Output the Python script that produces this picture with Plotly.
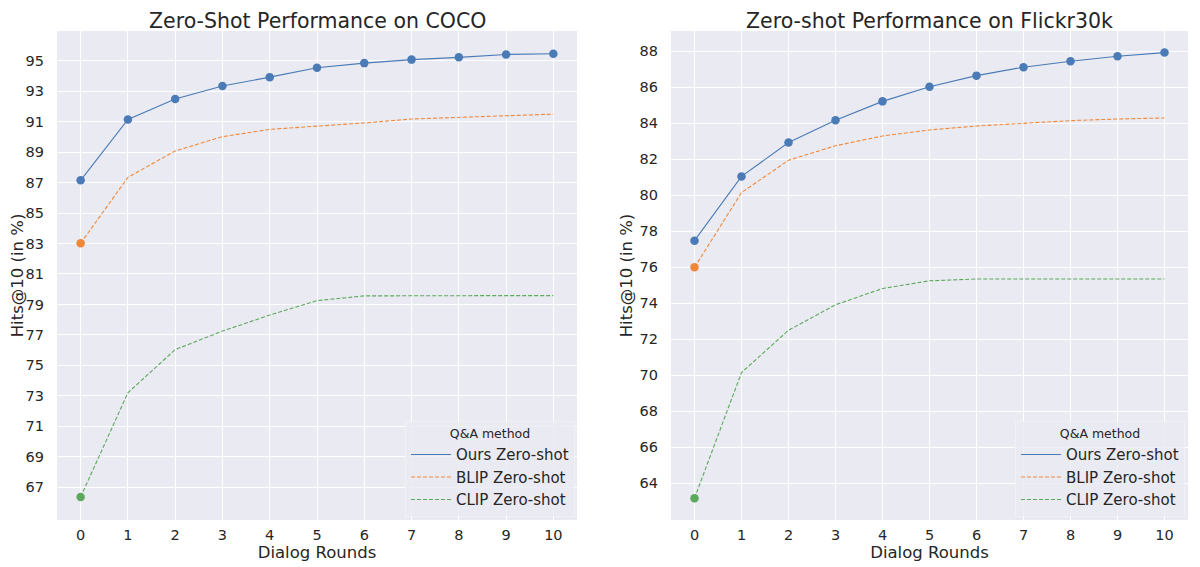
import plotly.graph_objects as go

# dialog rounds
rounds = list(range(11))

# COCO, Hits@10 (%)
coco_ours = [87.15, 91.15, 92.5, 93.35, 93.93, 94.55, 94.85, 95.08, 95.23, 95.42, 95.47]
coco_blip = [83.02, 87.35, 89.08, 90.02, 90.5, 90.7, 90.92, 91.18, 91.28, 91.37, 91.5]
coco_clip = [66.35, 73.2, 76.03, 77.25, 78.3, 79.25, 79.56, 79.58, 79.58, 79.58, 79.58]

# Flickr30k, Hits@10 (%)
flickr_ours = [77.48, 81.05, 82.93, 84.17, 85.22, 86.03, 86.65, 87.12, 87.45, 87.73, 87.93]
flickr_blip = [76.0, 80.15, 81.95, 82.75, 83.3, 83.63, 83.85, 84.0, 84.15, 84.24, 84.3]
flickr_clip = [63.17, 70.15, 72.5, 73.92, 74.82, 75.25, 75.35, 75.35, 75.35, 75.35, 75.35]

coco_yticks = list(range(67, 96, 2))
flickr_yticks = list(range(64, 89, 2))

BLUE = "#4a7bb6"
ORANGE = "#f0883a"
GREEN = "#5ca95b"
BG = "#eaeaf2"
TXT = "#262626"
FONT = "DejaVu Sans"

# page body has an 8px margin, so the figure sits 8px in from the top-left
W, H = 1184, 559

series = [
    ("Ours Zero-shot", BLUE, "solid", True),
    ("BLIP Zero-shot", ORANGE, "4px,2px", False),
    ("CLIP Zero-shot", GREEN, "4px,2px", False),
]

fig = go.Figure()

panels = [
    (("x", "y"), "legend", [coco_ours, coco_blip, coco_clip]),
    (("x2", "y2"), "legend2", [flickr_ours, flickr_blip, flickr_clip]),
]

for (xa, ya), leg, data in panels:
    for (name, color, dash, all_markers), vals in zip(series, data):
        fig.add_trace(go.Scatter(
            x=rounds, y=vals, mode="lines", name=name,
            line=dict(color=color, width=1.1, dash=dash),
            xaxis=xa, yaxis=ya, legend=leg,
        ))
    # markers: every point for ours, first point only for the baselines
    for (name, color, dash, all_markers), vals in zip(series, data):
        xs = rounds if all_markers else rounds[:1]
        ys = vals if all_markers else vals[:1]
        fig.add_trace(go.Scatter(
            x=xs, y=ys, mode="markers", showlegend=False,
            marker=dict(color=color, size=8.5),
            xaxis=xa, yaxis=ya,
        ))

axis_common = dict(
    showgrid=True, gridcolor="white", gridwidth=1.3,
    zeroline=False, showline=False, ticks="", automargin=False,
    tickfont=dict(size=14.5, color=TXT, family=FONT),
)

x_common = dict(
    axis_common, range=[-0.5, 10.5], tickvals=rounds, ticklabelstandoff=4,
    title=dict(text="Dialog Rounds", font=dict(size=16.5, color=TXT, family=FONT), standoff=4),
)
y_title = dict(text="Hits@10 (in %)", font=dict(size=16.5, color=TXT, family=FONT), standoff=2)

legend_common = dict(
    xanchor="right", yanchor="bottom",
    bgcolor="rgba(234,234,242,0.8)", bordercolor="#f0f0f5", borderwidth=1,
    font=dict(size=15, color=TXT, family=FONT),
    title=dict(text="Q&A method", side="top center", font=dict(size=12.5, color=TXT, family=FONT)),
    itemwidth=40, tracegroupgap=0,
)

left_dom = [49 / W, 569 / W]
right_dom = [663 / W, 1180 / W]
y_dom = [(H - 512) / H, (H - 23) / H]

fig.update_layout(
    width=W, height=H,
    paper_bgcolor="white", plot_bgcolor=BG,
    margin=dict(l=0, r=0, t=0, b=0),
    font=dict(family=FONT, color=TXT),
    xaxis=dict(x_common, domain=left_dom, anchor="y"),
    yaxis=dict(axis_common, domain=y_dom, anchor="x", ticklabelstandoff=12,
               range=[64.84, 96.96], tickvals=coco_yticks, title=y_title),
    xaxis2=dict(x_common, domain=right_dom, anchor="y2"),
    yaxis2=dict(axis_common, domain=y_dom, anchor="x2", ticklabelstandoff=12,
                range=[61.96, 89.13], tickvals=flickr_yticks, title=y_title),
    legend=dict(legend_common, x=567 / W, y=(H - 509) / H),
    legend2=dict(legend_common, x=1177 / W, y=(H - 509) / H),
    annotations=[
        dict(text="Zero-Shot Performance on COCO", x=sum(left_dom) / 2, y=1,
             xref="paper", yref="paper", showarrow=False, xanchor="center", yanchor="top",
             borderpad=0, font=dict(size=20.5, color=TXT, family=FONT)),
        dict(text="Zero-shot Performance on Flickr30k", x=sum(right_dom) / 2, y=1,
             xref="paper", yref="paper", showarrow=False, xanchor="center", yanchor="top",
             borderpad=0, font=dict(size=20.5, color=TXT, family=FONT)),
    ],
)

fig.write_html("out.html")
